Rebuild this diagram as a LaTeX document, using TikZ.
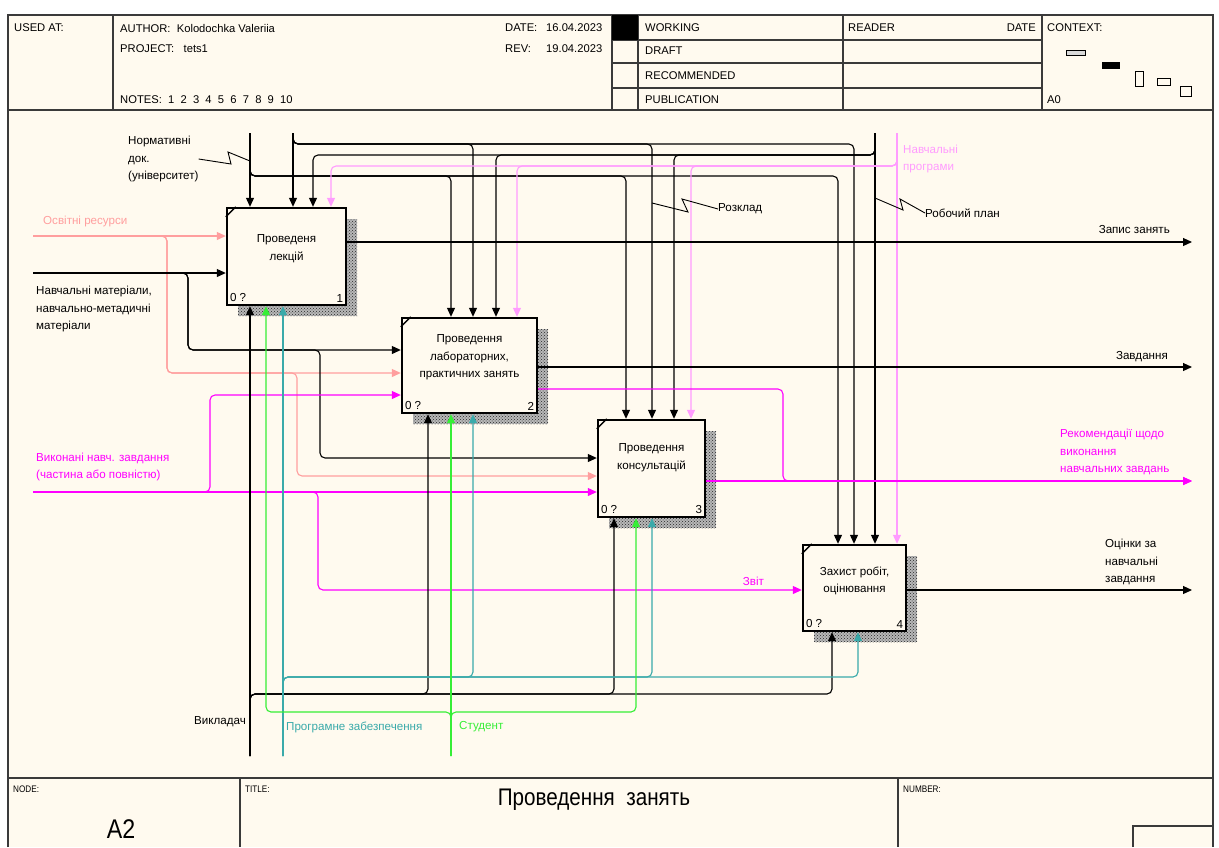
\documentclass[tikz,border=0pt]{standalone}
\usepackage{fontspec}
\setmainfont{Liberation Sans}
\newfontfamily\narrowfont[FakeStretch=0.86]{Liberation Sans}
\usepackage{xcolor}
\usepackage{tikz}
\usetikzlibrary{arrows.meta,shadows,patterns,calc}
\definecolor{paper}{HTML}{FFFAEF}
\definecolor{salmon}{HTML}{FF9E9E}
\definecolor{mag}{HTML}{FF00FF}
\definecolor{lpink}{HTML}{FF9CFF}
\definecolor{lgreen}{HTML}{36EE36}
\definecolor{tealc}{HTML}{3AAAAA}
\definecolor{frame}{HTML}{3A3A3A}
\newcommand{\dfont}{\fontsize{11.6}{17.5}\selectfont}
\newcommand{\hfont}{\fontsize{11.2}{12}\selectfont}

\begin{document}
\begin{tikzpicture}[
    x=1pt, y=-1pt,
    >={Triangle[length=9pt,width=8pt]},
    box/.style={draw, line width=2.4pt, fill=paper, inner sep=0pt,
                general shadow={shadow xshift=11pt, shadow yshift=-11pt,
                  fill=black!28},
                general shadow={shadow xshift=11pt, shadow yshift=-11pt,
                  pattern=crosshatch dots, pattern color=black!85}},
    btext/.style={font=\dfont, align=center, inner sep=0pt},
    arrow/.style={->, line width=1.1pt, rounded corners=5pt},
    squig/.style={line width=0.9pt},
    lbl/.style={font=\dfont, align=left, inner sep=0pt},
    hdr/.style={font=\hfont, inner sep=0pt, anchor=west},
    rule/.style={draw=frame, line width=1.2pt},
  ]
  \useasboundingbox (0,0) rectangle (1219,847);
  \fill[white] (0,0) rectangle (1219,847);
  \fill[paper] (8,15) rectangle (1213,847);

  % Form frame
  \draw[rule] (8,847) -- (8,15) -- (1213,15) -- (1213,847);
  \draw[rule] (8,110) -- (1213,110);
  \draw[rule] (8,778) -- (1213,778);
  \foreach \x in {113,612,638,843,1042} \draw[rule] (\x,15) -- (\x,110);
  \foreach \y in {40,63,88} \draw[rule] (612,\y) -- (1042,\y);
  \fill (612,15) rectangle (638,40);
  \draw[rule] (240,778) -- (240,847);
  \draw[rule] (898,778) -- (898,847);
  \draw[rule] (1133,847) |- (1213,826);

  % Header texts
  \node[hdr] (usedat) at (14,28) {USED AT:};
  \node[hdr] (author) at (120,28) {AUTHOR:\ \ Kolodochka Valeriia};
  \node[hdr] (project) at (120,49) {PROJECT:\ \ \ tets1};
  \node[hdr] (notes) at (120,100) {NOTES:\ \ 1\ \ 2\ \ 3\ \ 4\ \ 5\ \ 6\ \ 7\ \ 8\ \ 9\ \ 10};
  \node[hdr] (datek) at (505,28) {DATE:};
  \node[hdr] (datev) at (546,28) {16.04.2023};
  \node[hdr] (revk) at (505,49) {REV:};
  \node[hdr] (revv) at (546,49) {19.04.2023};
  \node[hdr] (working) at (645,28) {WORKING};
  \node[hdr] (draft) at (645,51) {DRAFT};
  \node[hdr] (recom) at (645,76) {RECOMMENDED};
  \node[hdr] (publ) at (645,100) {PUBLICATION};
  \node[hdr] (reader) at (848,28) {READER};
  \node[hdr, anchor=east] (rdate) at (1036,28) {DATE};
  \node[hdr] (context) at (1047,28) {CONTEXT:};
  \node[hdr] (ctxa0) at (1047,100) {A0};

  % Context marks
  \draw[line width=0.8pt, fill=black!15] (1066,50) rectangle (1085,55);
  \fill (1102,62) rectangle (1120,69);
  \draw[line width=0.8pt] (1135,71) rectangle (1143,86);
  \draw[line width=0.8pt] (1157,78) rectangle (1170,85);
  \draw[line width=0.8pt] (1180,86) rectangle (1191,96);

  % Title bar
  \node[hdr, font=\narrowfont\fontsize{9.5}{10}\selectfont] (nodek) at (13,789) {NODE:};
  \node[font=\narrowfont\fontsize{27}{30}\selectfont] (nodev) at (121,829) {A2};
  \node[hdr, font=\narrowfont\fontsize{9.5}{10}\selectfont] (titlek) at (245,789) {TITLE:};
  \node[font=\narrowfont\fontsize{24}{26}\selectfont] (titlev) at (594,800) {Проведення\ \ занять};
  \node[hdr, font=\narrowfont\fontsize{9.5}{10}\selectfont] (numk) at (903,789) {NUMBER:};

  % Activities
  \node[box, minimum width=119, minimum height=97] (b1) at (286.5,256.5) {};
  \node[box, minimum width=135, minimum height=95] (b2) at (469.5,365.5) {};
  \node[box, minimum width=107, minimum height=97] (b3) at (651.5,468.5) {};
  \node[box, minimum width=103, minimum height=86] (b4) at (854.5,588) {};
  \node[btext] (b1t) at ([yshift=8pt]b1.center) {Проведеня\\лекцій};
  \node[btext] (b2t) at ([yshift=8pt]b2.center) {Проведення\\лабораторних,\\практичних занять};
  \node[btext] (b3t) at ([yshift=11pt]b3.center) {Проведення\\консультацій};
  \node[btext] (b4t) at ([yshift=7pt]b4.center) {Захист робіт,\\оцінювання};
  \foreach \b/\n in {b1/1,b2/2,b3/3,b4/4} {
    \draw[line width=1.4pt] ([yshift=-10pt]\b.north west) -- ([xshift=10pt]\b.north west);
    \node[font=\dfont, anchor=south west, inner sep=4pt] (\b-z) at (\b.south west) {0 ?};
    \node[font=\dfont, anchor=south east, inner sep=4pt] (\b-n) at (\b.south east) {\n};
  }

  % Controls
  \coordinate (normdoc) at (250,133);
  \coordinate (rozklad) at (293,133);
  \coordinate (robplan) at (875,133);
  \coordinate (navprog) at (897,133);
  \draw[arrow] (normdoc) -- (normdoc |- b1.north);
  \draw[arrow] (normdoc) -- (250,176) -- (451,176) -- (451,0 |- b2.north);
  \draw[arrow] (normdoc) -- (250,176) -- (626,176) -- (626,0 |- b3.north);
  \draw[arrow] (normdoc) -- (250,176) -- (838,176) -- (838,0 |- b4.north);
  \draw[arrow] (rozklad) -- (rozklad |- b1.north);
  \draw[arrow] (rozklad) -- (293,144) -- (473,144) -- (473,0 |- b2.north);
  \draw[arrow] (rozklad) -- (293,144) -- (652,144) -- (652,0 |- b3.north);
  \draw[arrow] (rozklad) -- (293,144) -- (854,144) -- (854,0 |- b4.north);
  \draw[arrow] (robplan) -- (robplan |- b4.north);
  \draw[arrow] (robplan) -- (875,155) -- (313,155) -- (313,0 |- b1.north);
  \draw[arrow] (robplan) -- (875,155) -- (496,155) -- (496,0 |- b2.north);
  \draw[arrow] (robplan) -- (875,155) -- (674,155) -- (674,0 |- b3.north);
  \draw[arrow, lpink] (navprog) -- (navprog |- b4.north);
  \draw[arrow, lpink] (navprog) -- (897,166) -- (331,166) -- (331,0 |- b1.north);
  \draw[arrow, lpink] (navprog) -- (897,166) -- (517,166) -- (517,0 |- b2.north);
  \draw[arrow, lpink] (navprog) -- (897,166) -- (691,166) -- (691,0 |- b3.north);

  % Inputs
  \coordinate (osvres) at (33,236);
  \coordinate (navmat) at (33,273);
  \coordinate (vykzav) at (33,492);
  \draw[arrow, salmon] (osvres) -- (osvres -| b1.west);
  \draw[arrow, salmon] (osvres) -- (167,236) -- (167,373) -- (167,373 -| b2.west);
  \draw[arrow, salmon] (osvres) -- (167,236) -- (167,373) -- (297,373)
    -- (297,476) -- (297,476 -| b3.west);
  \draw[arrow] (navmat) -- (navmat -| b1.west);
  \draw[arrow] (navmat) -- (188,273) -- (188,350) -- (188,350 -| b2.west);
  \draw[arrow] (navmat) -- (188,273) -- (188,350) -- (320,350)
    -- (320,458) -- (320,458 -| b3.west);
  \draw[arrow, mag] (vykzav) -- (vykzav -| b3.west);
  \draw[arrow, mag] (vykzav) -- (210,492) -- (210,395) -- (210,395 -| b2.west);
  \draw[arrow, mag] (vykzav) -- (318,492) -- (318,590)
    -- node[lbl, pos=0.9, above=4pt, text=mag] (zvit) {Звіт} (318,590 -| b4.west);

  % Outputs
  \coordinate (zapys) at (1192,242);
  \coordinate (zavd) at (1192,367);
  \coordinate (rekom) at (1192,481);
  \coordinate (otsinky) at (1192,590);
  \draw[arrow] (b1.east |- zapys) -- (zapys);
  \draw[arrow] (b2.east |- zavd) -- (zavd);
  \draw[arrow, mag] (b3.east |- rekom) -- (rekom);
  \draw[arrow, mag] (b2.east |- 0,389) -- (783,389) -- (783,481) -- (rekom);
  \draw[arrow] (b4.east |- otsinky) -- (otsinky);

  % Mechanisms
  \coordinate (vykl) at (250,756);
  \coordinate (prog) at (283,756);
  \coordinate (stud) at (451,756);
  \draw[arrow] (vykl) -- (vykl |- b1.south);
  \draw[arrow] (vykl) -- (250,694) -- (428,694) -- (428,0 |- b2.south);
  \draw[arrow] (vykl) -- (250,694) -- (614,694) -- (614,0 |- b3.south);
  \draw[arrow] (vykl) -- (250,694) -- (832,694) -- (832,0 |- b4.south);
  \draw[arrow, tealc] (prog) -- (prog |- b1.south);
  \draw[arrow, tealc] (prog) -- (283,677) -- (473,677) -- (473,0 |- b2.south);
  \draw[arrow, tealc] (prog) -- (283,677) -- (652,677) -- (652,0 |- b3.south);
  \draw[arrow, tealc] (prog) -- (283,677) -- (858,677) -- (858,0 |- b4.south);
  \draw[arrow, lgreen] (stud) -- (stud |- b2.south);
  \draw[arrow, lgreen] (stud) -- (451,712) -- (266,712) -- (266,0 |- b1.south);
  \draw[arrow, lgreen] (stud) -- (451,712) -- (636,712) -- (636,0 |- b3.south);

  % Labels
  \node[lbl, anchor=west] (normlbl) at (128,159) {Нормативні\\док.\\(університет)};
  \draw[squig] (normlbl.east) -- (231,164) -- (228,152) -- (250,161);
  \node[lbl, anchor=west] (rozlbl) at (718,209) {Розклад};
  \draw[squig] (rozlbl.west) -- (682,199) -- (688,212) -- (652,203);
  \node[lbl, anchor=west] (roblbl) at (925,213) {Робочий план};
  \draw[squig] (roblbl.west) -- (900,199) -- (903,210) -- (875,198);
  \node[lbl, anchor=west, text=lpink] (proglbl) at (903,159) {Навчальні\\програми};
  \node[lbl, anchor=west, text=salmon] (osvlbl) at (43,221) {Освітні ресурси};
  \node[lbl, anchor=west] (navmatlbl) at (36,309)
    {Навчальні матеріали,\\навчально-метадичні\\матеріали};
  \node[lbl, anchor=west, text=mag] (vykzavlbl) at (36,467)
    {Виконані навч. завдання\\(частина або повністю)};
  \node[lbl, anchor=east] (zapyslbl) at (1170,230) {Запис занять};
  \node[lbl, anchor=east] (zavdlbl) at (1168,357) {Завдання};
  \node[lbl, anchor=west, text=mag] (rekomlbl) at (1060,452)
    {Рекомендації щодо\\виконання\\навчальних завдань};
  \node[lbl, anchor=west] (otslbl) at (1105,562) {Оцінки за\\навчальні\\завдання};
  \node[lbl, anchor=east] (vykllbl) at (246,722) {Викладач};
  \node[lbl, anchor=west, text=tealc] (prozablbl) at (286,727) {Програмне забезпечення};
  \node[lbl, anchor=west, text=lgreen] (studlbl) at (459,727) {Студент};

\end{tikzpicture}
\end{document}
